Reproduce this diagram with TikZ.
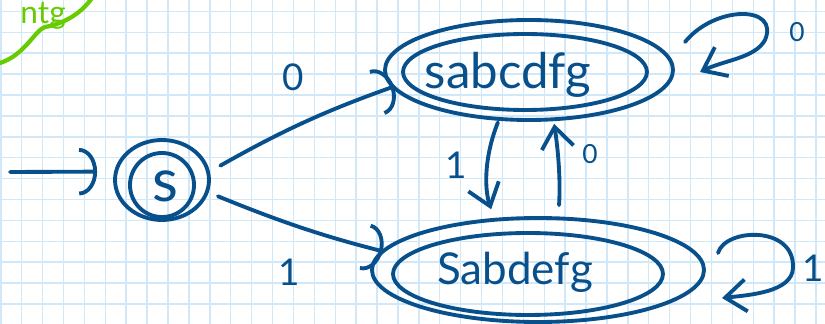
\documentclass[tikz,border=0pt]{standalone}
\usepackage{fontspec}
\setmainfont{Lato}
\usepackage{xcolor}
\usepackage{tikz}
\usetikzlibrary{shapes.geometric,calc,arrows.meta}
\definecolor{ink}{RGB}{8,80,140}
\definecolor{gridblue}{RGB}{208,232,248}
\definecolor{marker}{RGB}{102,204,0}
\tikzset{
    pen/.style={draw=ink, line width=2.2pt, line cap=round, line join=round},
    state/.style={pen, ellipse, inner sep=0pt},
    lbl/.style={text=ink, inner sep=0pt, font=\fontsize{21}{24}\selectfont},
    smalllbl/.style={text=ink, inner sep=0pt, font=\fontsize{15}{18}\selectfont},
    statename/.style={text=ink, inner sep=0pt, font=\fontsize{#1}{30}\selectfont},
    barb/.style={-{Straight Barb[length=0.42cm, width=0.64cm]}},
    archead/.style={-{Arc Barb[length=0.36cm, width=0.95cm]}}
}

\begin{document}
\begin{tikzpicture}[x=0.02cm, y=-0.02cm]
        \useasboundingbox (0,0) rectangle (825,324);
        % squared paper
        \fill[white] (0,0) rectangle (825,324);
        \foreach \k in {0,...,39}
            \draw[gridblue, line width=0.8pt] ({0.8+20.9*\k},0) -- ({0.8+20.9*\k},324);
        \foreach \k in {0,...,15}
            \draw[gridblue, line width=0.8pt] (0,{11.4+20.9*\k}) -- (825,{11.4+20.9*\k});

        % green note
        \node[text=marker, inner sep=0pt, anchor=base east, font=\fontsize{18}{20}\selectfont] (note) at (66,24) {ntg};
        \draw[marker, line width=2.4pt, line cap=round] (0,63) .. controls (25,55) and (35,30) .. (45,27)
            .. controls (62,24) and (80,15) .. (92,-2);

        % states
        \node[state, minimum width=1.88cm, minimum height=1.6cm,
              label={[statename=34, xshift=0.06cm, yshift=-0.12cm]center:s}] (s) at (162,180) {};
        \draw[pen] ($(s)+(0,5)$) circle [radius=32];
        \node[state, minimum width=4.88cm, minimum height=1.52cm,
              label={[statename=28, xshift=-0.34cm, yshift=-0.06cm]center:sabcdfg}] (A) at (525,72) {};
        \draw[pen] ($(A)+(4,-2)$) ellipse [x radius=144, y radius=50];
        \node[state, minimum width=5.4cm, minimum height=1.64cm,
              label={[statename=25, xshift=-0.26cm, yshift=0.04cm]center:Sabdefg}] (B) at (528,274) {};
        \draw[pen] ($(B)+(10,-4)$) ellipse [x radius=166, y radius=52];

        % transitions
        \coordinate (in) at (10,172);
        \draw[pen, archead, shorten >=0.34cm] (in) -- (s.170);
        \draw[pen, archead, shorten <=0.24cm, shorten >=0.24cm] (s.10) to[bend left=5] (A.185);
        \draw[pen, archead, shorten <=0.2cm, shorten >=0.42cm] (s.-15) to[bend right=4] (B.172);
        \draw[pen, barb, shorten <=0.24cm, shorten >=0.48cm] (A.240) to[bend right=20] (B.125);
        \draw[pen, barb, shorten <=0.54cm, shorten >=0.26cm] (B.55) to[bend right=6] (A.305);

        % self loops
        \draw[pen, barb] (685,42) .. controls (715,5) and (780,5) .. (765,40)
            .. controls (755,58) and (725,60) .. (700,72);
        \draw[pen, barb] (718,253) .. controls (725,228) and (795,225) .. (793,268)
            .. controls (792,292) and (750,295) .. (722,298);

        % Labels
        \node[lbl] (l0) at (293,77) {0};
        \node[lbl] (l1) at (289,272) {1};
        \node[lbl] (l1m) at (456,165) {1};
        \node[smalllbl] (l0m) at (590,154) {0};
        \node[smalllbl] (l0l) at (797,32) {0};
        \node[lbl] (l1l) at (813,268) {1};
\end{tikzpicture}
\end{document}
